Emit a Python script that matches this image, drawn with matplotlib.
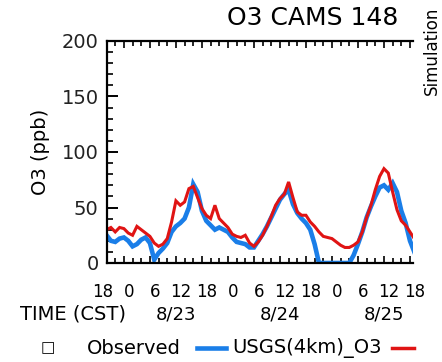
import matplotlib
matplotlib.use("Agg")
import matplotlib.pyplot as plt
from matplotlib.ticker import MultipleLocator
from matplotlib.transforms import blended_transform_factory
import numpy as np

# hours relative to 8/23 00:00 CST
hours = np.arange(-4, 68)

# USGS(4km)_O3 simulation (ppb)
usgs_o3 = [25, 20, 19, 22, 23, 20, 15, 17, 21, 23, 18, 3, 9, 13, 18, 28,
           33, 36, 40, 50, 71, 64, 47, 38, 34, 30, 32, 30, 28, 23, 19, 18,
           17, 14, 14, 20, 26, 33, 41, 49, 57, 62, 66, 53, 45, 40, 36, 30,
           17, 0, 0, 0, 0, 0, 0, 0, 0, 7, 17, 28, 41, 51, 60, 68, 70, 66,
           72, 64, 47, 36, 20, 10]

# second simulation (red)
sim2_o3 = [30, 32, 28, 32, 31, 27, 25, 33, 30, 27, 24, 18, 15, 17, 22, 37,
           56, 52, 55, 67, 69, 59, 49, 43, 40, 52, 40, 36, 32, 26, 24, 23,
           25, 18, 15, 19, 25, 33, 42, 52, 58, 62, 73, 59, 46, 43, 43, 37,
           33, 28, 24, 23, 22, 19, 16, 14, 14, 16, 19, 28, 41, 52, 66, 78,
           85, 81, 64, 48, 38, 34, 28, 22]

# bottom tick labels
tick_hours = [-6, 0, 6, 12, 18, 24, 30, 36, 42, 48, 54, 60, 66]
tick_text = ["18", "0", "6", "12", "18", "0", "6", "12", "18", "0", "6", "12", "18"]
date_hours = [12, 36, 60]
date_text = ["8/23", "8/24", "8/25"]

blue = "#1a7ee8"
red = "#e01414"

fig = plt.figure(figsize=(4.42, 3.62), dpi=100)
ax = fig.add_axes([107 / 442, 1 - 263 / 362, (413 - 107) / 442, (263 - 41) / 362])

ax.plot(hours, usgs_o3, color=blue, lw=3.3, solid_joinstyle="miter")
ax.plot(hours, sim2_o3, color=red, lw=2.2, solid_joinstyle="miter")

ax.set_xlim(-3.9, 66.7)
ax.set_ylim(0, 200)

ax.spines["right"].set_visible(False)
for s in ["left", "top", "bottom"]:
    ax.spines[s].set_linewidth(1.6)

ax.yaxis.set_major_locator(MultipleLocator(50))
ax.yaxis.set_minor_locator(MultipleLocator(10))
ax.xaxis.set_major_locator(MultipleLocator(6))
ax.xaxis.set_minor_locator(MultipleLocator(2))
ax.tick_params(axis="y", which="major", direction="in", length=8, width=1.4,
               labelsize=14, pad=6, right=False)
ax.tick_params(axis="y", which="minor", direction="in", length=4, width=1.2, right=False)
ax.tick_params(axis="x", which="major", direction="in", length=5, width=1.2,
               top=True, labelbottom=False)
ax.tick_params(axis="x", which="minor", direction="in", length=3.5, width=1.2, top=True)
for lab in ax.get_yticklabels():
    lab.set_color("#222222")

ax.set_ylabel("O3 (ppb)", fontsize=14, labelpad=8)

# hour labels and dates below the axis
trans = blended_transform_factory(ax.transData, ax.transAxes)
for h, t in zip(tick_hours, tick_text):
    ax.text(h + 1.2, -0.13, t, transform=trans, ha="center", va="center",
            fontsize=12, clip_on=False)
for h, t in zip(date_hours, date_text):
    ax.text(h, -0.23, t, transform=trans, ha="center", va="center",
            fontsize=13, clip_on=False)

fig.text(20 / 442, 1 - 314 / 362, "TIME (CST)", ha="left", va="center", fontsize=14)
fig.text(398 / 442, 1 - 18 / 362, "O3 CAMS 148", ha="right", va="center", fontsize=18)
fig.text(432 / 442, 1 - 95 / 362, "Simulation", rotation=90, ha="center",
         va="bottom", fontsize=12)

# legend row drawn by hand (it is cut at the right edge)
ly = 1 - 348 / 362
fig.text(48 / 442, ly, "\u25a1", ha="center", va="center", fontsize=11)
fig.text(87 / 442, ly, "Observed", ha="left", va="center", fontsize=14)
fig.add_artist(plt.Line2D([197 / 442, 226 / 442], [ly, ly], color=blue, lw=3.3,
                          transform=fig.transFigure))
fig.text(232 / 442, ly, "USGS(4km)_O3", ha="left", va="center", fontsize=14)
fig.add_artist(plt.Line2D([392 / 442, 414 / 442], [ly, ly], color=red, lw=2.5,
                          transform=fig.transFigure))

fig.savefig("out.png", dpi=100)
